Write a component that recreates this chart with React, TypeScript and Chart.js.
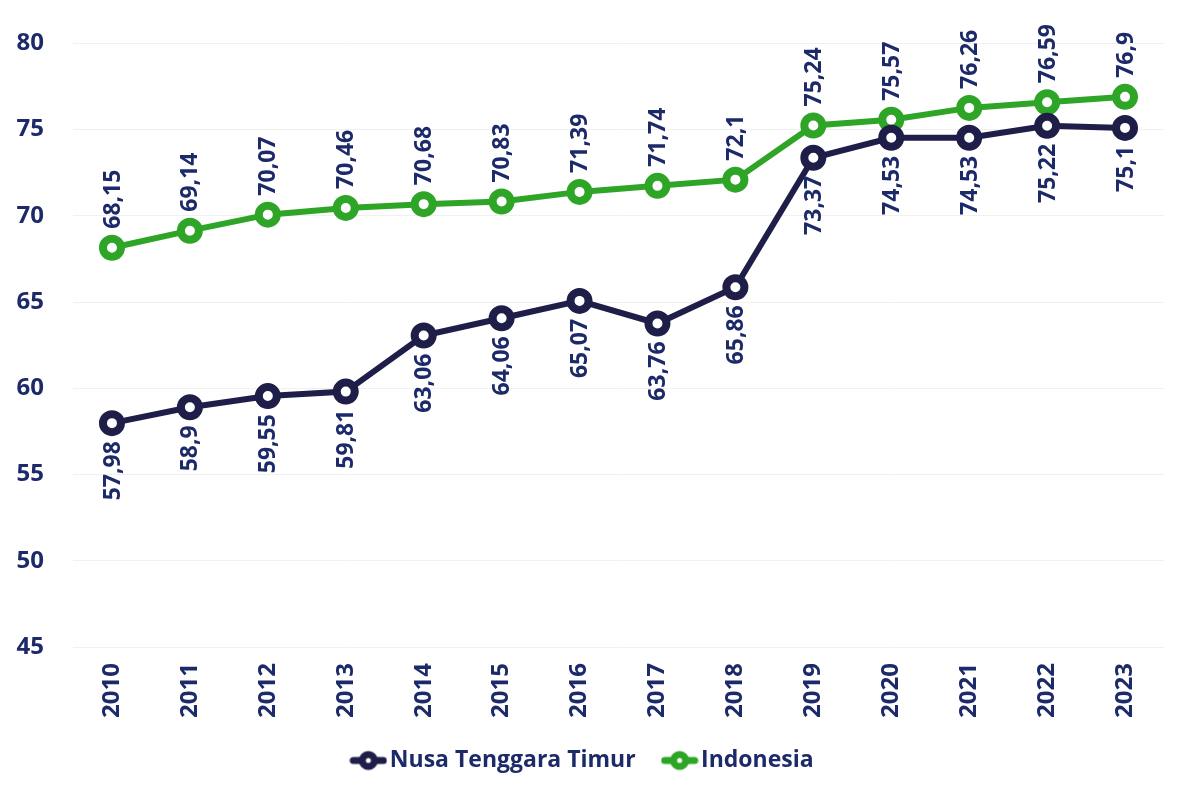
import React, { useEffect, useRef } from "react";
import { Chart, registerables } from "chart.js";

Chart.register(...registerables);

const years = ["2010","2011","2012","2013","2014","2015","2016","2017","2018","2019","2020","2021","2022","2023"];
const nttValues = [57.98, 58.9, 59.55, 59.81, 63.06, 64.06, 65.07, 63.76, 65.86, 73.37, 74.53, 74.53, 75.22, 75.1];
const indonesiaValues = [68.15, 69.14, 70.07, 70.46, 70.68, 70.83, 71.39, 71.74, 72.1, 75.24, 75.57, 76.26, 76.59, 76.9];
const yTicks = [45, 50, 55, 60, 65, 70, 75, 80];

const NAVY_TEXT = "#1d2a6a";
const NTT_COLOR = "#1e1e48";
const GREEN = "#2ea526";
const FONT = "'Open Sans', sans-serif";

function makeMarker(color: string): HTMLCanvasElement {
  const c = document.createElement("canvas");
  c.width = 38;
  c.height = 24;
  const ctx = c.getContext("2d")!;
  ctx.strokeStyle = color;
  ctx.lineWidth = 7;
  ctx.lineCap = "round";
  ctx.beginPath();
  ctx.moveTo(4, 12);
  ctx.lineTo(34, 12);
  ctx.stroke();
  ctx.beginPath();
  ctx.arc(19, 12, 6, 0, Math.PI * 2);
  ctx.fillStyle = "#ffffff";
  ctx.fill();
  ctx.lineWidth = 7;
  ctx.stroke();
  return c;
}

const valueLabels = {
  id: "valueLabels",
  afterDatasetsDraw(chart: any) {
    const ctx = chart.ctx;
    ctx.save();
    ctx.font = `bold 23px ${FONT}`;
    ctx.fillStyle = NAVY_TEXT;
    ctx.textBaseline = "middle";
    chart.data.datasets.forEach((ds: any, di: number) => {
      const meta = chart.getDatasetMeta(di);
      meta.data.forEach((pt: any, i: number) => {
        const v = ds.data[i] as number;
        const txt = String(v).replace(".", ",");
        ctx.save();
        ctx.translate(pt.x, pt.y);
        ctx.rotate(-Math.PI / 2);
        if (di === 1) {
          ctx.textAlign = "left";
          ctx.fillText(txt, 19, 1);
        } else {
          ctx.textAlign = "right";
          ctx.fillText(txt, -18, 1);
        }
        ctx.restore();
      });
    });
    ctx.restore();
  },
};

export default function App() {
  const ref = useRef<HTMLCanvasElement | null>(null);
  useEffect(() => {
    document.body.style.margin = "0";
    const markers = [makeMarker(NTT_COLOR), makeMarker(GREEN)];
    const chart = new Chart(ref.current!, {
      type: "line",
      data: {
        labels: years,
        datasets: [
          {
            label: "Nusa Tenggara Timur",
            data: nttValues,
            borderColor: NTT_COLOR,
            backgroundColor: "#ffffff",
            borderWidth: 6,
            pointRadius: 9,
            pointBorderWidth: 8,
            pointBackgroundColor: "#ffffff",
            pointBorderColor: NTT_COLOR,
            tension: 0,
          },
          {
            label: "Indonesia",
            data: indonesiaValues,
            borderColor: GREEN,
            backgroundColor: "#ffffff",
            borderWidth: 6,
            pointRadius: 9,
            pointBorderWidth: 8,
            pointBackgroundColor: "#ffffff",
            pointBorderColor: GREEN,
            tension: 0,
          },
        ],
      },
      options: {
        animation: false,
        responsive: false,
        maintainAspectRatio: false,
        layout: { padding: { top: 42, bottom: 5, left: 0, right: 9 } },
        scales: {
          x: {
            offset: true,
            grid: { display: false, drawTicks: false },
            border: { display: false },
            ticks: {
              minRotation: 90,
              maxRotation: 90,
              padding: 16,
              color: NAVY_TEXT,
              font: { family: FONT, size: 24, weight: "bold" },
            },
            afterFit(scale: any) {
              scale.height = 92;
            },
          },
          y: {
            min: 45,
            max: 80,
            afterBuildTicks(scale: any) {
              scale.ticks = yTicks.map((v) => ({ value: v }));
            },
            grid: { color: "#f0f0f0", lineWidth: 1, drawTicks: false },
            border: { display: false },
            ticks: {
              padding: 29,
              color: NAVY_TEXT,
              font: { family: FONT, size: 24, weight: "bold" },
            },
            afterFit(scale: any) {
              scale.width = 73;
            },
          },
        },
        plugins: {
          tooltip: { enabled: false },
          legend: {
            position: "bottom",
            labels: {
              usePointStyle: true,
              pointStyleWidth: 20,
              boxHeight: 22,
              padding: 10,
              color: NAVY_TEXT,
              font: { family: FONT, size: 23, weight: "bold" },
              generateLabels(chart: any) {
                const n = chart.data.datasets.length;
                return chart.data.datasets.map((ds: any, i: number) => ({
                  text: i < n - 1 ? ds.label + "    " : ds.label,
                  fillStyle: ds.borderColor,
                  strokeStyle: ds.borderColor,
                  pointStyle: markers[i],
                  fontColor: NAVY_TEXT,
                  hidden: false,
                  lineWidth: 0,
                  datasetIndex: i,
                }));
              },
            },
          },
        },
      },
      plugins: [valueLabels],
    } as any);
    return () => chart.destroy();
  }, []);
  return (
    <div style={{ width: 1181, height: 787, background: "#ffffff" }}>
      <canvas ref={ref} width={1181} height={787} style={{ display: "block" }} />
    </div>
  );
}
